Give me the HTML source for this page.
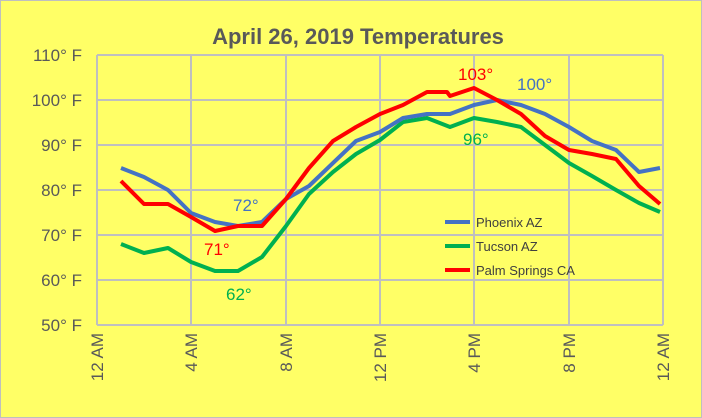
<!DOCTYPE html>
<html><head><meta charset="utf-8"><style>
body{margin:0;width:702px;height:418px;overflow:hidden;background:#ffff66;}
svg{display:block;font-family:"Liberation Sans",Arial,sans-serif;}
</style></head><body>
<svg width="702" height="418" xmlns="http://www.w3.org/2000/svg">
<rect x="0.5" y="0.5" width="701" height="417" fill="#ffff66" stroke="#bfbfbf"/>
<text x="358" y="44" text-anchor="middle" font-size="22" font-weight="bold" fill="#595959">April 26, 2019 Temperatures</text>
<g stroke="#bfbfbf" stroke-width="2">
<line x1="97" y1="55" x2="663" y2="55"/><line x1="97" y1="100" x2="663" y2="100"/>
<line x1="97" y1="145" x2="663" y2="145"/><line x1="97" y1="190" x2="663" y2="190"/>
<line x1="97" y1="235" x2="663" y2="235"/><line x1="97" y1="280" x2="663" y2="280"/>
<line x1="97" y1="325" x2="663" y2="325"/>
<line x1="97" y1="55" x2="97" y2="325"/><line x1="191" y1="55" x2="191" y2="325"/>
<line x1="286" y1="55" x2="286" y2="325"/><line x1="380" y1="55" x2="380" y2="325"/>
<line x1="474" y1="55" x2="474" y2="325"/><line x1="569" y1="55" x2="569" y2="325"/>
<line x1="663" y1="55" x2="663" y2="325"/>
</g>
<g font-size="17" fill="#595959" text-anchor="end">
<text x="82" y="61">110° F</text><text x="82" y="106">100° F</text><text x="82" y="151">90° F</text>
<text x="82" y="196">80° F</text><text x="82" y="241">70° F</text><text x="82" y="286">60° F</text>
<text x="82" y="331">50° F</text>
</g>
<g font-size="17" fill="#595959" text-anchor="end">
<text transform="translate(103,333) rotate(-90)">12 AM</text>
<text transform="translate(197,333) rotate(-90)">4 AM</text>
<text transform="translate(292,333) rotate(-90)">8 AM</text>
<text transform="translate(386,333) rotate(-90)">12 PM</text>
<text transform="translate(480,333) rotate(-90)">4 PM</text>
<text transform="translate(575,333) rotate(-90)">8 PM</text>
<text transform="translate(669,333) rotate(-90)">12 AM</text>
</g>
<g fill="none" stroke-width="4" stroke-linejoin="round">
<polyline stroke="#00b050" points="121,244 144,253 168,248 191,262 215,271 238,271 262,257 286,226 309,194 333,172 356,154 380,140 403,122 427,118 450,127 474,118 497,122 521,127 545,145 569,163 592,176 616,190 639,203 660,212"/>
<polyline stroke="#4472c4" points="121,168 144,177 168,190 191,213 215,222 238,226 262,222 286,199 309,186 333,163 356,141 380,132 403,118 427,114 450,114 474,105 497,100 521,105 545,114 569,127 592,141 616,150 639,172 660,168"/>
<polyline stroke="#ff0000" points="121,181 144,204 168,204 191,217 215,231 238,226 262,226 286,199 309,168 333,141 356,127 380,114 403,105 427,92 447,92 450,96 474,88 497,100 521,114 545,136 569,150 592,154 616,159 639,186 660,204"/>
</g>
<g font-size="17">
<text x="233" y="211" fill="#4472c4">72°</text>
<text x="204" y="255" fill="#ff0000">71°</text>
<text x="226" y="300" fill="#00b050">62°</text>
<text x="458" y="80" fill="#ff0000">103°</text>
<text x="517" y="90" fill="#4472c4">100°</text>
<text x="463" y="145" fill="#00b050">96°</text>
</g>
<g font-size="13" fill="#404040">
<line x1="445" y1="222" x2="470" y2="222" stroke="#4472c4" stroke-width="4"/><text x="476" y="227">Phoenix AZ</text>
<line x1="445" y1="246" x2="470" y2="246" stroke="#00b050" stroke-width="4"/><text x="476" y="251">Tucson AZ</text>
<line x1="445" y1="270" x2="470" y2="270" stroke="#ff0000" stroke-width="4"/><text x="476" y="275">Palm Springs CA</text>
</g>
</svg>
</body></html>
